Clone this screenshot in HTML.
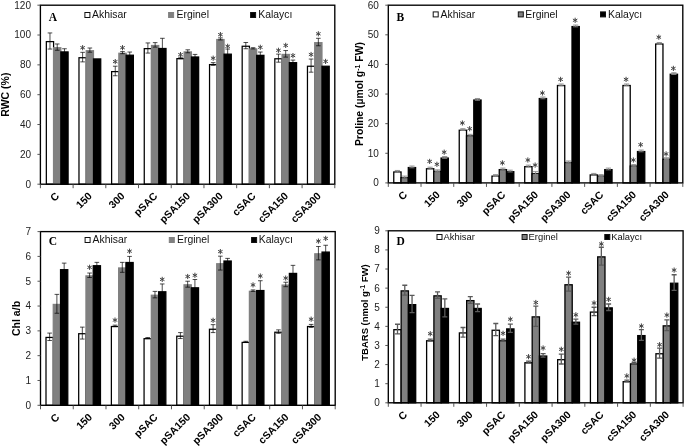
<!DOCTYPE html>
<html><head><meta charset="utf-8"><style>
html,body{margin:0;padding:0;background:#fff;}
body{width:685px;height:447px;overflow:hidden;}
svg{display:block;will-change:transform;filter:blur(0.4px);}
text{font-family:"Liberation Sans",sans-serif;}
.tl{font-size:10px;fill:#222;}
.xl{font-size:10.45px;font-weight:bold;fill:#000;}
.yl{font-weight:bold;fill:#000;}
.pl{font-family:"Liberation Serif",serif;font-weight:bold;font-size:11.5px;fill:#000;}
.lg{fill:#111;}
</style></head><body>
<svg width="685" height="447" viewBox="0 0 685 447">
<rect width="685" height="447" fill="#fff"/>
<rect x="46.34" y="41.62" width="7.25" height="142.57" fill="#ffffff" stroke="#000" stroke-width="1.25"/>
<rect x="53.59" y="47.74" width="7.25" height="136.46" fill="#808080" stroke="#808080" stroke-width="1.25"/>
<rect x="60.85" y="51.92" width="7.25" height="132.28" fill="#000000" stroke="#000" stroke-width="1.25"/>
<rect x="78.98" y="57.73" width="7.25" height="126.47" fill="#ffffff" stroke="#000" stroke-width="1.25"/>
<rect x="86.23" y="50.72" width="7.25" height="133.48" fill="#808080" stroke="#808080" stroke-width="1.25"/>
<rect x="93.49" y="58.93" width="7.25" height="125.27" fill="#000000" stroke="#000" stroke-width="1.25"/>
<rect x="111.62" y="71.61" width="7.25" height="112.59" fill="#ffffff" stroke="#000" stroke-width="1.25"/>
<rect x="118.87" y="53.26" width="7.25" height="130.94" fill="#808080" stroke="#808080" stroke-width="1.25"/>
<rect x="126.13" y="55.2" width="7.25" height="129" fill="#000000" stroke="#000" stroke-width="1.25"/>
<rect x="144.26" y="48.64" width="7.25" height="135.56" fill="#ffffff" stroke="#000" stroke-width="1.25"/>
<rect x="151.51" y="45.5" width="7.25" height="138.7" fill="#808080" stroke="#808080" stroke-width="1.25"/>
<rect x="158.77" y="48.49" width="7.25" height="135.71" fill="#000000" stroke="#000" stroke-width="1.25"/>
<rect x="176.9" y="58.63" width="7.25" height="125.57" fill="#ffffff" stroke="#000" stroke-width="1.25"/>
<rect x="184.15" y="51.92" width="7.25" height="132.28" fill="#808080" stroke="#808080" stroke-width="1.25"/>
<rect x="191.41" y="56.99" width="7.25" height="127.21" fill="#000000" stroke="#000" stroke-width="1.25"/>
<rect x="209.54" y="64.6" width="7.25" height="119.6" fill="#ffffff" stroke="#000" stroke-width="1.25"/>
<rect x="216.79" y="39.54" width="7.25" height="144.66" fill="#808080" stroke="#808080" stroke-width="1.25"/>
<rect x="224.05" y="54.16" width="7.25" height="130.04" fill="#000000" stroke="#000" stroke-width="1.25"/>
<rect x="242.18" y="46.25" width="7.25" height="137.95" fill="#ffffff" stroke="#000" stroke-width="1.25"/>
<rect x="249.43" y="48.93" width="7.25" height="135.27" fill="#808080" stroke="#808080" stroke-width="1.25"/>
<rect x="256.69" y="55.35" width="7.25" height="128.85" fill="#000000" stroke="#000" stroke-width="1.25"/>
<rect x="274.82" y="58.78" width="7.25" height="125.42" fill="#ffffff" stroke="#000" stroke-width="1.25"/>
<rect x="282.07" y="54.45" width="7.25" height="129.75" fill="#808080" stroke="#808080" stroke-width="1.25"/>
<rect x="289.33" y="62.66" width="7.25" height="121.54" fill="#000000" stroke="#000" stroke-width="1.25"/>
<rect x="307.46" y="66.24" width="7.25" height="117.96" fill="#ffffff" stroke="#000" stroke-width="1.25"/>
<rect x="314.71" y="42.67" width="7.25" height="141.53" fill="#808080" stroke="#808080" stroke-width="1.25"/>
<rect x="321.97" y="66.24" width="7.25" height="117.96" fill="#000000" stroke="#000" stroke-width="1.25"/>
<path d="M49.97 32.94V49.06M47.67 32.94H52.27M47.67 49.06H52.27" stroke="#000" stroke-width="0.7" fill="none"/>
<path d="M57.22 43.98V50.25M54.92 43.98H59.52M54.92 50.25H59.52" stroke="#000" stroke-width="0.7" fill="none"/>
<path d="M64.47 48.76V53.83M62.17 48.76H66.77M62.17 53.83H66.77" stroke="#000" stroke-width="0.7" fill="none"/>
<path d="M82.61 52.34V61.88M80.31 52.34H84.91M80.31 61.88H84.91" stroke="#000" stroke-width="0.7" fill="none"/>
<path d="M89.86 48.01V52.19M87.56 48.01H92.16M87.56 52.19H92.16" stroke="#000" stroke-width="0.7" fill="none"/>
<path d="M115.25 66.21V75.76M112.95 66.21H117.55M112.95 75.76H117.55" stroke="#000" stroke-width="0.7" fill="none"/>
<path d="M122.5 51.59V53.68M120.2 51.59H124.8M120.2 53.68H124.8" stroke="#000" stroke-width="0.7" fill="none"/>
<path d="M129.75 52.04V57.11M127.45 52.04H132.05M127.45 57.11H132.05" stroke="#000" stroke-width="0.7" fill="none"/>
<path d="M147.89 42.94V53.08M145.59 42.94H150.19M145.59 53.08H150.19" stroke="#000" stroke-width="0.7" fill="none"/>
<path d="M155.14 42.64V47.12M152.84 42.64H157.44M152.84 47.12H157.44" stroke="#000" stroke-width="0.7" fill="none"/>
<path d="M162.39 38.31V57.41M160.09 38.31H164.69M160.09 57.41H164.69" stroke="#000" stroke-width="0.7" fill="none"/>
<path d="M180.53 57.26V58.75M178.23 57.26H182.83M178.23 58.75H182.83" stroke="#000" stroke-width="0.7" fill="none"/>
<path d="M187.78 49.8V52.78M185.48 49.8H190.08M185.48 52.78H190.08" stroke="#000" stroke-width="0.7" fill="none"/>
<path d="M195.03 54.42V58.3M192.73 54.42H197.33M192.73 58.3H197.33" stroke="#000" stroke-width="0.7" fill="none"/>
<path d="M213.17 62.63V65.31M210.87 62.63H215.47M210.87 65.31H215.47" stroke="#000" stroke-width="0.7" fill="none"/>
<path d="M220.42 37.87V39.96M218.12 37.87H222.72M218.12 39.96H222.72" stroke="#000" stroke-width="0.7" fill="none"/>
<path d="M227.67 49.06V58M225.37 49.06H229.97M225.37 58H229.97" stroke="#000" stroke-width="0.7" fill="none"/>
<path d="M245.81 42.49V48.76M243.51 42.49H248.11M243.51 48.76H248.11" stroke="#000" stroke-width="0.7" fill="none"/>
<path d="M253.06 47.71V48.91M250.76 47.71H255.36M250.76 48.91H255.36" stroke="#000" stroke-width="0.7" fill="none"/>
<path d="M260.31 52.04V57.41M258.01 52.04H262.61M258.01 57.41H262.61" stroke="#000" stroke-width="0.7" fill="none"/>
<path d="M278.45 54.13V62.18M276.15 54.13H280.75M276.15 62.18H280.75" stroke="#000" stroke-width="0.7" fill="none"/>
<path d="M285.7 50.55V57.11M283.4 50.55H288M283.4 57.11H288" stroke="#000" stroke-width="0.7" fill="none"/>
<path d="M292.95 60.09V63.97M290.65 60.09H295.25M290.65 63.97H295.25" stroke="#000" stroke-width="0.7" fill="none"/>
<path d="M311.09 59.05V72.18M308.79 59.05H313.39M308.79 72.18H313.39" stroke="#000" stroke-width="0.7" fill="none"/>
<path d="M318.34 38.31V45.77M316.04 38.31H320.64M316.04 45.77H320.64" stroke="#000" stroke-width="0.7" fill="none"/>
<path d="M82.61 45.5L82.61 49.9M80.7 46.6L84.51 48.8M80.7 48.8L84.51 46.6" stroke="#444" stroke-width="1.0" stroke-linecap="round" fill="none"/>
<path d="M115.25 59.4L115.25 63.8M113.34 60.5L117.15 62.7M113.34 62.7L117.15 60.5" stroke="#444" stroke-width="1.0" stroke-linecap="round" fill="none"/>
<path d="M122.5 45.5L122.5 49.9M120.59 46.6L124.41 48.8M120.59 48.8L124.41 46.6" stroke="#444" stroke-width="1.0" stroke-linecap="round" fill="none"/>
<path d="M180.53 52.4L180.53 56.8M178.62 53.5L182.43 55.7M178.62 55.7L182.43 53.5" stroke="#444" stroke-width="1.0" stroke-linecap="round" fill="none"/>
<path d="M213.17 56L213.17 60.4M211.26 57.1L215.07 59.3M211.26 59.3L215.07 57.1" stroke="#444" stroke-width="1.0" stroke-linecap="round" fill="none"/>
<path d="M220.42 32.4L220.42 36.8M218.51 33.5L222.33 35.7M218.51 35.7L222.33 33.5" stroke="#444" stroke-width="1.0" stroke-linecap="round" fill="none"/>
<path d="M227.67 44.1L227.67 48.5M225.77 45.2L229.58 47.4M225.77 47.4L229.58 45.2" stroke="#444" stroke-width="1.0" stroke-linecap="round" fill="none"/>
<path d="M260.31 45.1L260.31 49.5M258.41 46.2L262.22 48.4M258.41 48.4L262.22 46.2" stroke="#444" stroke-width="1.0" stroke-linecap="round" fill="none"/>
<path d="M278.45 48.1L278.45 52.5M276.54 49.2L280.35 51.4M276.54 51.4L280.35 49.2" stroke="#444" stroke-width="1.0" stroke-linecap="round" fill="none"/>
<path d="M285.7 43.2L285.7 47.6M283.79 44.3L287.61 46.5M283.79 46.5L287.61 44.3" stroke="#444" stroke-width="1.0" stroke-linecap="round" fill="none"/>
<path d="M292.95 53.4L292.95 57.8M291.05 54.5L294.86 56.7M291.05 56.7L294.86 54.5" stroke="#444" stroke-width="1.0" stroke-linecap="round" fill="none"/>
<path d="M311.09 52.3L311.09 56.7M309.18 53.4L312.99 55.6M309.18 55.6L312.99 53.4" stroke="#444" stroke-width="1.0" stroke-linecap="round" fill="none"/>
<path d="M318.34 31.6L318.34 36M316.43 32.7L320.25 34.9M316.43 34.9L320.25 32.7" stroke="#444" stroke-width="1.0" stroke-linecap="round" fill="none"/>
<path d="M325.59 59.2L325.59 63.6M323.69 60.3L327.5 62.5M323.69 62.5L327.5 60.3" stroke="#444" stroke-width="1.0" stroke-linecap="round" fill="none"/>
<rect x="40.4" y="5.2" width="294.4" height="179" fill="none" stroke="#000" stroke-width="1.35"/>
<text x="31" y="187.6" text-anchor="end" class="tl">0</text>
<text x="31" y="157.77" text-anchor="end" class="tl">20</text>
<text x="31" y="127.93" text-anchor="end" class="tl">40</text>
<text x="31" y="98.1" text-anchor="end" class="tl">60</text>
<text x="31" y="68.27" text-anchor="end" class="tl">80</text>
<text x="31" y="38.43" text-anchor="end" class="tl">100</text>
<text x="31" y="8.6" text-anchor="end" class="tl">120</text>
<path d="M37.4 184.2H40.4M37.4 154.37H40.4M37.4 124.53H40.4M37.4 94.7H40.4M37.4 64.87H40.4M37.4 35.03H40.4M37.4 5.2H40.4M40.4 184.2V188.2M73.11 184.2V188.2M105.82 184.2V188.2M138.53 184.2V188.2M171.24 184.2V188.2M203.96 184.2V188.2M236.67 184.2V188.2M269.38 184.2V188.2M302.09 184.2V188.2M334.8 184.2V188.2" stroke="#444" stroke-width="0.9" fill="none"/>
<text x="59.96" y="196.7" text-anchor="end" class="xl" transform="rotate(-45 59.96 196.7)">C</text>
<text x="92.67" y="196.7" text-anchor="end" class="xl" transform="rotate(-45 92.67 196.7)">150</text>
<text x="125.38" y="196.7" text-anchor="end" class="xl" transform="rotate(-45 125.38 196.7)">300</text>
<text x="158.09" y="196.7" text-anchor="end" class="xl" transform="rotate(-45 158.09 196.7)">pSAC</text>
<text x="190.8" y="196.7" text-anchor="end" class="xl" transform="rotate(-45 190.8 196.7)">pSA150</text>
<text x="223.51" y="196.7" text-anchor="end" class="xl" transform="rotate(-45 223.51 196.7)">pSA300</text>
<text x="256.22" y="196.7" text-anchor="end" class="xl" transform="rotate(-45 256.22 196.7)">cSAC</text>
<text x="288.93" y="196.7" text-anchor="end" class="xl" transform="rotate(-45 288.93 196.7)">cSA150</text>
<text x="321.64" y="196.7" text-anchor="end" class="xl" transform="rotate(-45 321.64 196.7)">cSA300</text>
<text x="9.4" y="94.7" text-anchor="middle" class="yl" style="font-size:10.5px" transform="rotate(-90 9.4 94.7)">RWC (%)</text>
<text x="48.8" y="21.2" class="pl">A</text>
<rect x="84.9" y="12.5" width="5" height="5" fill="#ffffff" stroke="#111" stroke-width="1"/>
<text x="92.1" y="18.2" class="lg" style="font-size:10.4px">Akhisar</text>
<rect x="168.6" y="12.5" width="5" height="5" fill="#808080" stroke="#808080" stroke-width="1"/>
<text x="176.6" y="18.2" class="lg" style="font-size:10.4px">Erginel</text>
<rect x="250.6" y="12.5" width="5" height="5" fill="#000000" stroke="#111" stroke-width="1"/>
<text x="258.3" y="18.2" class="lg" style="font-size:10.4px">Kalaycı</text>
<rect x="393.76" y="172" width="7.28" height="10.9" fill="#ffffff" stroke="#000" stroke-width="1.3"/>
<rect x="401.03" y="177.63" width="7.28" height="5.27" fill="#808080" stroke="#000" stroke-width="1.3"/>
<rect x="408.31" y="167.56" width="7.28" height="15.34" fill="#000000" stroke="#000" stroke-width="1.3"/>
<rect x="426.5" y="168.74" width="7.28" height="14.16" fill="#ffffff" stroke="#000" stroke-width="1.3"/>
<rect x="433.77" y="171.41" width="7.28" height="11.49" fill="#808080" stroke="#000" stroke-width="1.3"/>
<rect x="441.05" y="158.08" width="7.28" height="24.82" fill="#000000" stroke="#000" stroke-width="1.3"/>
<rect x="459.24" y="130.24" width="7.28" height="52.66" fill="#ffffff" stroke="#000" stroke-width="1.3"/>
<rect x="466.51" y="135.87" width="7.28" height="47.03" fill="#808080" stroke="#000" stroke-width="1.3"/>
<rect x="473.79" y="100.03" width="7.28" height="82.87" fill="#000000" stroke="#000" stroke-width="1.3"/>
<rect x="491.98" y="176.15" width="7.28" height="6.75" fill="#ffffff" stroke="#000" stroke-width="1.3"/>
<rect x="499.25" y="169.63" width="7.28" height="13.27" fill="#808080" stroke="#000" stroke-width="1.3"/>
<rect x="506.53" y="171.7" width="7.28" height="11.2" fill="#000000" stroke="#000" stroke-width="1.3"/>
<rect x="524.72" y="166.67" width="7.28" height="16.23" fill="#ffffff" stroke="#000" stroke-width="1.3"/>
<rect x="531.99" y="173.78" width="7.28" height="9.12" fill="#808080" stroke="#000" stroke-width="1.3"/>
<rect x="539.27" y="98.55" width="7.28" height="84.35" fill="#000000" stroke="#000" stroke-width="1.3"/>
<rect x="557.46" y="85.52" width="7.28" height="97.38" fill="#ffffff" stroke="#000" stroke-width="1.3"/>
<rect x="564.73" y="162.52" width="7.28" height="20.38" fill="#808080" stroke="#000" stroke-width="1.3"/>
<rect x="572.01" y="26.58" width="7.28" height="156.32" fill="#000000" stroke="#000" stroke-width="1.3"/>
<rect x="590.2" y="174.96" width="7.28" height="7.94" fill="#ffffff" stroke="#000" stroke-width="1.3"/>
<rect x="597.47" y="176.15" width="7.28" height="6.75" fill="#808080" stroke="#000" stroke-width="1.3"/>
<rect x="604.75" y="169.63" width="7.28" height="13.27" fill="#000000" stroke="#000" stroke-width="1.3"/>
<rect x="622.94" y="85.52" width="7.28" height="97.38" fill="#ffffff" stroke="#000" stroke-width="1.3"/>
<rect x="630.21" y="166.08" width="7.28" height="16.82" fill="#808080" stroke="#000" stroke-width="1.3"/>
<rect x="637.49" y="151.56" width="7.28" height="31.34" fill="#000000" stroke="#000" stroke-width="1.3"/>
<rect x="655.68" y="44.06" width="7.28" height="138.84" fill="#ffffff" stroke="#000" stroke-width="1.3"/>
<rect x="662.95" y="159.26" width="7.28" height="23.64" fill="#808080" stroke="#000" stroke-width="1.3"/>
<rect x="670.23" y="74.26" width="7.28" height="108.64" fill="#000000" stroke="#000" stroke-width="1.3"/>
<path d="M397.39 170.46V172.24M394.79 170.46H399.99M394.79 172.24H399.99" stroke="#8a8a8a" stroke-width="0.9" fill="none"/>
<path d="M404.67 176.09V177.87M402.07 176.09H407.27M402.07 177.87H407.27" stroke="#8a8a8a" stroke-width="0.9" fill="none"/>
<path d="M411.95 166.02V167.8M409.35 166.02H414.55M409.35 167.8H414.55" stroke="#8a8a8a" stroke-width="0.9" fill="none"/>
<path d="M430.13 167.2V168.98M427.53 167.2H432.73M427.53 168.98H432.73" stroke="#8a8a8a" stroke-width="0.9" fill="none"/>
<path d="M437.41 169.87V171.65M434.81 169.87H440.01M434.81 171.65H440.01" stroke="#8a8a8a" stroke-width="0.9" fill="none"/>
<path d="M444.69 156.54V158.32M442.09 156.54H447.29M442.09 158.32H447.29" stroke="#8a8a8a" stroke-width="0.9" fill="none"/>
<path d="M462.87 128.7V130.48M460.27 128.7H465.47M460.27 130.48H465.47" stroke="#8a8a8a" stroke-width="0.9" fill="none"/>
<path d="M470.15 134.33V136.11M467.55 134.33H472.75M467.55 136.11H472.75" stroke="#8a8a8a" stroke-width="0.9" fill="none"/>
<path d="M477.43 98.49V100.27M474.83 98.49H480.03M474.83 100.27H480.03" stroke="#8a8a8a" stroke-width="0.9" fill="none"/>
<path d="M495.61 174.61V176.38M493.01 174.61H498.21M493.01 176.38H498.21" stroke="#8a8a8a" stroke-width="0.9" fill="none"/>
<path d="M502.89 168.09V169.87M500.29 168.09H505.49M500.29 169.87H505.49" stroke="#8a8a8a" stroke-width="0.9" fill="none"/>
<path d="M510.17 170.16V171.94M507.57 170.16H512.77M507.57 171.94H512.77" stroke="#8a8a8a" stroke-width="0.9" fill="none"/>
<path d="M528.35 165.13V166.91M525.75 165.13H530.95M525.75 166.91H530.95" stroke="#8a8a8a" stroke-width="0.9" fill="none"/>
<path d="M535.63 171.65V174.61M533.03 171.65H538.23M533.03 174.61H538.23" stroke="#8a8a8a" stroke-width="0.9" fill="none"/>
<path d="M542.91 97.01V98.79M540.31 97.01H545.51M540.31 98.79H545.51" stroke="#8a8a8a" stroke-width="0.9" fill="none"/>
<path d="M561.09 83.98V85.76M558.49 83.98H563.69M558.49 85.76H563.69" stroke="#8a8a8a" stroke-width="0.9" fill="none"/>
<path d="M568.37 160.98V162.76M565.77 160.98H570.97M565.77 162.76H570.97" stroke="#8a8a8a" stroke-width="0.9" fill="none"/>
<path d="M575.65 25.04V26.82M573.05 25.04H578.25M573.05 26.82H578.25" stroke="#8a8a8a" stroke-width="0.9" fill="none"/>
<path d="M593.83 173.42V175.2M591.23 173.42H596.43M591.23 175.2H596.43" stroke="#8a8a8a" stroke-width="0.9" fill="none"/>
<path d="M601.11 174.61V176.38M598.51 174.61H603.71M598.51 176.38H603.71" stroke="#8a8a8a" stroke-width="0.9" fill="none"/>
<path d="M608.39 168.09V169.87M605.79 168.09H610.99M605.79 169.87H610.99" stroke="#8a8a8a" stroke-width="0.9" fill="none"/>
<path d="M626.57 83.98V85.76M623.97 83.98H629.17M623.97 85.76H629.17" stroke="#8a8a8a" stroke-width="0.9" fill="none"/>
<path d="M633.85 164.54V166.31M631.25 164.54H636.45M631.25 166.31H636.45" stroke="#8a8a8a" stroke-width="0.9" fill="none"/>
<path d="M641.13 150.03V151.8M638.53 150.03H643.73M638.53 151.8H643.73" stroke="#8a8a8a" stroke-width="0.9" fill="none"/>
<path d="M659.31 42.52V44.29M656.71 42.52H661.91M656.71 44.29H661.91" stroke="#8a8a8a" stroke-width="0.9" fill="none"/>
<path d="M666.59 157.73V159.5M663.99 157.73H669.19M663.99 159.5H669.19" stroke="#8a8a8a" stroke-width="0.9" fill="none"/>
<path d="M673.87 72.73V74.5M671.27 72.73H676.47M671.27 74.5H676.47" stroke="#8a8a8a" stroke-width="0.9" fill="none"/>
<path d="M429.63 159.2L429.63 163.6M427.73 160.3L431.54 162.5M427.73 162.5L431.54 160.3" stroke="#444" stroke-width="1.0" stroke-linecap="round" fill="none"/>
<path d="M436.91 162.1L436.91 166.5M435 163.2L438.82 165.4M435 165.4L438.82 163.2" stroke="#444" stroke-width="1.0" stroke-linecap="round" fill="none"/>
<path d="M444.19 150L444.19 154.4M442.28 151.1L446.09 153.3M442.28 153.3L446.09 151.1" stroke="#444" stroke-width="1.0" stroke-linecap="round" fill="none"/>
<path d="M462.37 120.8L462.37 125.2M460.47 121.9L464.28 124.1M460.47 124.1L464.28 121.9" stroke="#444" stroke-width="1.0" stroke-linecap="round" fill="none"/>
<path d="M469.65 126.5L469.65 130.9M467.74 127.6L471.56 129.8M467.74 129.8L471.56 127.6" stroke="#444" stroke-width="1.0" stroke-linecap="round" fill="none"/>
<path d="M502.39 160.7L502.39 165.1M500.48 161.8L504.3 164M500.48 164L504.3 161.8" stroke="#444" stroke-width="1.0" stroke-linecap="round" fill="none"/>
<path d="M527.85 157.8L527.85 162.2M525.95 158.9L529.76 161.1M525.95 161.1L529.76 158.9" stroke="#444" stroke-width="1.0" stroke-linecap="round" fill="none"/>
<path d="M535.13 162.9L535.13 167.3M533.22 164L537.04 166.2M533.22 166.2L537.04 164" stroke="#444" stroke-width="1.0" stroke-linecap="round" fill="none"/>
<path d="M542.41 90.8L542.41 95.2M540.5 91.9L544.31 94.1M540.5 94.1L544.31 91.9" stroke="#444" stroke-width="1.0" stroke-linecap="round" fill="none"/>
<path d="M560.59 77.2L560.59 81.6M558.69 78.3L562.5 80.5M558.69 80.5L562.5 78.3" stroke="#444" stroke-width="1.0" stroke-linecap="round" fill="none"/>
<path d="M575.15 18.1L575.15 22.5M573.24 19.2L577.05 21.4M573.24 21.4L577.05 19.2" stroke="#444" stroke-width="1.0" stroke-linecap="round" fill="none"/>
<path d="M626.07 77.2L626.07 81.6M624.17 78.3L627.98 80.5M624.17 80.5L627.98 78.3" stroke="#444" stroke-width="1.0" stroke-linecap="round" fill="none"/>
<path d="M633.35 157.8L633.35 162.2M631.44 158.9L635.26 161.1M631.44 161.1L635.26 158.9" stroke="#444" stroke-width="1.0" stroke-linecap="round" fill="none"/>
<path d="M640.63 142.5L640.63 146.9M638.72 143.6L642.53 145.8M638.72 145.8L642.53 143.6" stroke="#444" stroke-width="1.0" stroke-linecap="round" fill="none"/>
<path d="M658.81 35L658.81 39.4M656.91 36.1L660.72 38.3M656.91 38.3L660.72 36.1" stroke="#444" stroke-width="1.0" stroke-linecap="round" fill="none"/>
<path d="M666.09 151.7L666.09 156.1M664.18 152.8L668 155M664.18 155L668 152.8" stroke="#444" stroke-width="1.0" stroke-linecap="round" fill="none"/>
<path d="M673.37 66.2L673.37 70.6M671.46 67.3L675.27 69.5M671.46 69.5L675.27 67.3" stroke="#444" stroke-width="1.0" stroke-linecap="round" fill="none"/>
<rect x="388.3" y="5.2" width="294.5" height="177.7" fill="none" stroke="#000" stroke-width="1.35"/>
<text x="378.9" y="186.3" text-anchor="end" class="tl">0</text>
<text x="378.9" y="156.68" text-anchor="end" class="tl">10</text>
<text x="378.9" y="127.07" text-anchor="end" class="tl">20</text>
<text x="378.9" y="97.45" text-anchor="end" class="tl">30</text>
<text x="378.9" y="67.83" text-anchor="end" class="tl">40</text>
<text x="378.9" y="38.22" text-anchor="end" class="tl">50</text>
<text x="378.9" y="8.6" text-anchor="end" class="tl">60</text>
<path d="M385.3 182.9H388.3M385.3 153.28H388.3M385.3 123.67H388.3M385.3 94.05H388.3M385.3 64.43H388.3M385.3 34.82H388.3M385.3 5.2H388.3M388.3 182.9V186.9M421.02 182.9V186.9M453.74 182.9V186.9M486.47 182.9V186.9M519.19 182.9V186.9M551.91 182.9V186.9M584.63 182.9V186.9M617.36 182.9V186.9M650.08 182.9V186.9M682.8 182.9V186.9" stroke="#444" stroke-width="0.9" fill="none"/>
<text x="407.86" y="195.4" text-anchor="end" class="xl" transform="rotate(-45 407.86 195.4)">C</text>
<text x="440.58" y="195.4" text-anchor="end" class="xl" transform="rotate(-45 440.58 195.4)">150</text>
<text x="473.31" y="195.4" text-anchor="end" class="xl" transform="rotate(-45 473.31 195.4)">300</text>
<text x="506.03" y="195.4" text-anchor="end" class="xl" transform="rotate(-45 506.03 195.4)">pSAC</text>
<text x="538.75" y="195.4" text-anchor="end" class="xl" transform="rotate(-45 538.75 195.4)">pSA150</text>
<text x="571.47" y="195.4" text-anchor="end" class="xl" transform="rotate(-45 571.47 195.4)">pSA300</text>
<text x="604.19" y="195.4" text-anchor="end" class="xl" transform="rotate(-45 604.19 195.4)">cSAC</text>
<text x="636.92" y="195.4" text-anchor="end" class="xl" transform="rotate(-45 636.92 195.4)">cSA150</text>
<text x="669.64" y="195.4" text-anchor="end" class="xl" transform="rotate(-45 669.64 195.4)">cSA300</text>
<text x="362.6" y="94.05" text-anchor="middle" class="yl" style="font-size:10.4px" transform="rotate(-90 362.6 94.05)">Proline (µmol g<tspan baseline-shift="super" font-size="7">-1</tspan> FW)</text>
<text x="396.6" y="21.2" class="pl">B</text>
<rect x="433.2" y="11.9" width="5" height="5" fill="#ffffff" stroke="#111" stroke-width="1"/>
<text x="440.6" y="17.5" class="lg" style="font-size:10.4px">Akhisar</text>
<rect x="518.3" y="11.9" width="5" height="5" fill="#808080" stroke="#111" stroke-width="1"/>
<text x="525.3" y="17.5" class="lg" style="font-size:10.4px">Erginel</text>
<rect x="600.5" y="11.9" width="5" height="5" fill="#000000" stroke="#111" stroke-width="1"/>
<text x="608.1" y="17.5" class="lg" style="font-size:10.4px">Kalaycı</text>
<rect x="46" y="337.44" width="7.26" height="67.86" fill="#ffffff" stroke="#000" stroke-width="1.25"/>
<rect x="53.26" y="304.43" width="7.26" height="100.87" fill="#808080" stroke="#808080" stroke-width="1.25"/>
<rect x="60.53" y="269.69" width="7.26" height="135.61" fill="#000000" stroke="#000" stroke-width="1.25"/>
<rect x="78.69" y="333.72" width="7.26" height="71.58" fill="#ffffff" stroke="#000" stroke-width="1.25"/>
<rect x="85.95" y="275.9" width="7.26" height="129.4" fill="#808080" stroke="#808080" stroke-width="1.25"/>
<rect x="93.22" y="265.72" width="7.26" height="139.58" fill="#000000" stroke="#000" stroke-width="1.25"/>
<rect x="111.38" y="326.52" width="7.26" height="78.78" fill="#ffffff" stroke="#000" stroke-width="1.25"/>
<rect x="118.64" y="267.96" width="7.26" height="137.34" fill="#808080" stroke="#808080" stroke-width="1.25"/>
<rect x="125.91" y="262.5" width="7.26" height="142.8" fill="#000000" stroke="#000" stroke-width="1.25"/>
<rect x="144.07" y="338.68" width="7.26" height="66.62" fill="#ffffff" stroke="#000" stroke-width="1.25"/>
<rect x="151.33" y="295.25" width="7.26" height="110.05" fill="#808080" stroke="#808080" stroke-width="1.25"/>
<rect x="158.6" y="291.78" width="7.26" height="113.52" fill="#000000" stroke="#000" stroke-width="1.25"/>
<rect x="176.76" y="336.2" width="7.26" height="69.1" fill="#ffffff" stroke="#000" stroke-width="1.25"/>
<rect x="184.02" y="284.83" width="7.26" height="120.47" fill="#808080" stroke="#808080" stroke-width="1.25"/>
<rect x="191.29" y="287.81" width="7.26" height="117.49" fill="#000000" stroke="#000" stroke-width="1.25"/>
<rect x="209.45" y="329.25" width="7.26" height="76.05" fill="#ffffff" stroke="#000" stroke-width="1.25"/>
<rect x="216.71" y="263.74" width="7.26" height="141.56" fill="#808080" stroke="#808080" stroke-width="1.25"/>
<rect x="223.98" y="261.01" width="7.26" height="144.29" fill="#000000" stroke="#000" stroke-width="1.25"/>
<rect x="242.14" y="342.4" width="7.26" height="62.9" fill="#ffffff" stroke="#000" stroke-width="1.25"/>
<rect x="249.4" y="291.28" width="7.26" height="114.02" fill="#808080" stroke="#808080" stroke-width="1.25"/>
<rect x="256.67" y="290.54" width="7.26" height="114.76" fill="#000000" stroke="#000" stroke-width="1.25"/>
<rect x="274.83" y="332.23" width="7.26" height="73.07" fill="#ffffff" stroke="#000" stroke-width="1.25"/>
<rect x="282.09" y="285.08" width="7.26" height="120.22" fill="#808080" stroke="#808080" stroke-width="1.25"/>
<rect x="289.36" y="273.42" width="7.26" height="131.88" fill="#000000" stroke="#000" stroke-width="1.25"/>
<rect x="307.52" y="326.52" width="7.26" height="78.78" fill="#ffffff" stroke="#000" stroke-width="1.25"/>
<rect x="314.78" y="253.81" width="7.26" height="151.49" fill="#808080" stroke="#808080" stroke-width="1.25"/>
<rect x="322.05" y="252.08" width="7.26" height="153.22" fill="#000000" stroke="#000" stroke-width="1.25"/>
<path d="M49.63 333.09V340.53M47.33 333.09H51.93M47.33 340.53H51.93" stroke="#000" stroke-width="0.7" fill="none"/>
<path d="M56.89 294.38V313.24M54.59 294.38H59.19M54.59 313.24H59.19" stroke="#000" stroke-width="0.7" fill="none"/>
<path d="M64.16 263.11V275.02M61.86 263.11H66.46M61.86 275.02H66.46" stroke="#000" stroke-width="0.7" fill="none"/>
<path d="M82.32 327.13V339.05M80.02 327.13H84.62M80.02 339.05H84.62" stroke="#000" stroke-width="0.7" fill="none"/>
<path d="M89.59 273.04V277.51M87.29 273.04H91.89M87.29 277.51H91.89" stroke="#000" stroke-width="0.7" fill="none"/>
<path d="M96.85 262.37V267.83M94.55 262.37H99.15M94.55 267.83H99.15" stroke="#000" stroke-width="0.7" fill="none"/>
<path d="M115.01 325.15V326.64M112.71 325.15H117.31M112.71 326.64H117.31" stroke="#000" stroke-width="0.7" fill="none"/>
<path d="M122.28 262.37V272.3M119.98 262.37H124.58M119.98 272.3H124.58" stroke="#000" stroke-width="0.7" fill="none"/>
<path d="M129.54 256.41V267.33M127.24 256.41H131.84M127.24 267.33H131.84" stroke="#000" stroke-width="0.7" fill="none"/>
<path d="M147.7 337.56V338.55M145.4 337.56H150M145.4 338.55H150" stroke="#000" stroke-width="0.7" fill="none"/>
<path d="M154.97 291.4V297.85M152.66 291.4H157.27M152.66 297.85H157.27" stroke="#000" stroke-width="0.7" fill="none"/>
<path d="M162.23 283.96V298.35M159.93 283.96H164.53M159.93 298.35H164.53" stroke="#000" stroke-width="0.7" fill="none"/>
<path d="M180.39 332.59V338.55M178.09 332.59H182.69M178.09 338.55H182.69" stroke="#000" stroke-width="0.7" fill="none"/>
<path d="M187.66 281.23V287.18M185.35 281.23H189.96M185.35 287.18H189.96" stroke="#000" stroke-width="0.7" fill="none"/>
<path d="M194.92 279.49V294.88M192.62 279.49H197.22M192.62 294.88H197.22" stroke="#000" stroke-width="0.7" fill="none"/>
<path d="M213.08 324.65V332.59M210.78 324.65H215.38M210.78 332.59H215.38" stroke="#000" stroke-width="0.7" fill="none"/>
<path d="M220.34 256.17V270.06M218.04 256.17H222.65M218.04 270.06H222.65" stroke="#000" stroke-width="0.7" fill="none"/>
<path d="M227.61 258.4V262.37M225.31 258.4H229.91M225.31 262.37H229.91" stroke="#000" stroke-width="0.7" fill="none"/>
<path d="M245.77 341.28V342.27M243.47 341.28H248.07M243.47 342.27H248.07" stroke="#000" stroke-width="0.7" fill="none"/>
<path d="M253.03 289.91V291.4M250.73 289.91H255.34M250.73 291.4H255.34" stroke="#000" stroke-width="0.7" fill="none"/>
<path d="M260.3 280.73V299.09M258 280.73H262.6M258 299.09H262.6" stroke="#000" stroke-width="0.7" fill="none"/>
<path d="M278.46 329.86V333.34M276.16 329.86H280.76M276.16 333.34H280.76" stroke="#000" stroke-width="0.7" fill="none"/>
<path d="M285.72 282.22V286.69M283.42 282.22H288.02M283.42 286.69H288.02" stroke="#000" stroke-width="0.7" fill="none"/>
<path d="M292.99 265.35V280.24M290.69 265.35H295.29M290.69 280.24H295.29" stroke="#000" stroke-width="0.7" fill="none"/>
<path d="M311.15 324.41V327.38M308.85 324.41H313.45M308.85 327.38H313.45" stroke="#000" stroke-width="0.7" fill="none"/>
<path d="M318.41 246.49V259.89M316.11 246.49H320.71M316.11 259.89H320.71" stroke="#000" stroke-width="0.7" fill="none"/>
<path d="M325.68 245.25V257.65M323.38 245.25H327.98M323.38 257.65H327.98" stroke="#000" stroke-width="0.7" fill="none"/>
<path d="M89.59 265.1L89.59 269.5M87.68 266.2L91.49 268.4M87.68 268.4L91.49 266.2" stroke="#444" stroke-width="1.0" stroke-linecap="round" fill="none"/>
<path d="M115.01 317.9L115.01 322.3M113.11 319L116.92 321.2M113.11 321.2L116.92 319" stroke="#444" stroke-width="1.0" stroke-linecap="round" fill="none"/>
<path d="M129.54 249L129.54 253.4M127.63 250.1L131.44 252.3M127.63 252.3L131.44 250.1" stroke="#444" stroke-width="1.0" stroke-linecap="round" fill="none"/>
<path d="M162.23 277.2L162.23 281.6M160.32 278.3L164.13 280.5M160.32 280.5L164.13 278.3" stroke="#444" stroke-width="1.0" stroke-linecap="round" fill="none"/>
<path d="M187.66 274.3L187.66 278.7M185.75 275.4L189.56 277.6M185.75 277.6L189.56 275.4" stroke="#444" stroke-width="1.0" stroke-linecap="round" fill="none"/>
<path d="M194.92 273.1L194.92 277.5M193.01 274.2L196.82 276.4M193.01 276.4L196.82 274.2" stroke="#444" stroke-width="1.0" stroke-linecap="round" fill="none"/>
<path d="M213.08 318.1L213.08 322.5M211.18 319.2L214.99 321.4M211.18 321.4L214.99 319.2" stroke="#444" stroke-width="1.0" stroke-linecap="round" fill="none"/>
<path d="M220.34 249.4L220.34 253.8M218.44 250.5L222.25 252.7M218.44 252.7L222.25 250.5" stroke="#444" stroke-width="1.0" stroke-linecap="round" fill="none"/>
<path d="M253.03 282.7L253.03 287.1M251.13 283.8L254.94 286M251.13 286L254.94 283.8" stroke="#444" stroke-width="1.0" stroke-linecap="round" fill="none"/>
<path d="M260.3 273.8L260.3 278.2M258.39 274.9L262.2 277.1M258.39 277.1L262.2 274.9" stroke="#444" stroke-width="1.0" stroke-linecap="round" fill="none"/>
<path d="M285.72 275.9L285.72 280.3M283.82 277L287.63 279.2M283.82 279.2L287.63 277" stroke="#444" stroke-width="1.0" stroke-linecap="round" fill="none"/>
<path d="M311.15 317L311.15 321.4M309.25 318.1L313.06 320.3M309.25 320.3L313.06 318.1" stroke="#444" stroke-width="1.0" stroke-linecap="round" fill="none"/>
<path d="M318.41 238.9L318.41 243.3M316.51 240L320.32 242.2M316.51 242.2L320.32 240" stroke="#444" stroke-width="1.0" stroke-linecap="round" fill="none"/>
<path d="M325.68 236.2L325.68 240.6M323.77 237.3L327.58 239.5M323.77 239.5L327.58 237.3" stroke="#444" stroke-width="1.0" stroke-linecap="round" fill="none"/>
<rect x="40.5" y="231.6" width="294.7" height="173.7" fill="none" stroke="#000" stroke-width="1.35"/>
<text x="31.1" y="408.7" text-anchor="end" class="tl">0</text>
<text x="31.1" y="383.89" text-anchor="end" class="tl">1</text>
<text x="31.1" y="359.07" text-anchor="end" class="tl">2</text>
<text x="31.1" y="334.26" text-anchor="end" class="tl">3</text>
<text x="31.1" y="309.44" text-anchor="end" class="tl">4</text>
<text x="31.1" y="284.63" text-anchor="end" class="tl">5</text>
<text x="31.1" y="259.81" text-anchor="end" class="tl">6</text>
<text x="31.1" y="235" text-anchor="end" class="tl">7</text>
<path d="M37.5 405.3H40.5M37.5 380.49H40.5M37.5 355.67H40.5M37.5 330.86H40.5M37.5 306.04H40.5M37.5 281.23H40.5M37.5 256.41H40.5M37.5 231.6H40.5M40.5 405.3V409.3M73.24 405.3V409.3M105.99 405.3V409.3M138.73 405.3V409.3M171.48 405.3V409.3M204.22 405.3V409.3M236.97 405.3V409.3M269.71 405.3V409.3M302.46 405.3V409.3M335.2 405.3V409.3" stroke="#444" stroke-width="0.9" fill="none"/>
<text x="60.07" y="417.8" text-anchor="end" class="xl" transform="rotate(-45 60.07 417.8)">C</text>
<text x="92.82" y="417.8" text-anchor="end" class="xl" transform="rotate(-45 92.82 417.8)">150</text>
<text x="125.56" y="417.8" text-anchor="end" class="xl" transform="rotate(-45 125.56 417.8)">300</text>
<text x="158.31" y="417.8" text-anchor="end" class="xl" transform="rotate(-45 158.31 417.8)">pSAC</text>
<text x="191.05" y="417.8" text-anchor="end" class="xl" transform="rotate(-45 191.05 417.8)">pSA150</text>
<text x="223.79" y="417.8" text-anchor="end" class="xl" transform="rotate(-45 223.79 417.8)">pSA300</text>
<text x="256.54" y="417.8" text-anchor="end" class="xl" transform="rotate(-45 256.54 417.8)">cSAC</text>
<text x="289.28" y="417.8" text-anchor="end" class="xl" transform="rotate(-45 289.28 417.8)">cSA150</text>
<text x="322.03" y="417.8" text-anchor="end" class="xl" transform="rotate(-45 322.03 417.8)">cSA300</text>
<text x="20.4" y="318.45" text-anchor="middle" class="yl" style="font-size:10.5px" transform="rotate(-90 20.4 318.45)">Chl a/b</text>
<text x="48.8" y="245.4" class="pl">C</text>
<rect x="85.1" y="237.5" width="5" height="5" fill="#ffffff" stroke="#111" stroke-width="1"/>
<text x="92.6" y="243.3" class="lg" style="font-size:10.4px">Akhisar</text>
<rect x="169.3" y="237.5" width="5" height="5" fill="#808080" stroke="#808080" stroke-width="1"/>
<text x="177" y="243.3" class="lg" style="font-size:10.4px">Erginel</text>
<rect x="251.6" y="237.5" width="5" height="5" fill="#000000" stroke="#111" stroke-width="1"/>
<text x="258.8" y="243.3" class="lg" style="font-size:10.4px">Kalaycı</text>
<rect x="393.86" y="329.68" width="7.28" height="73.12" fill="#ffffff" stroke="#000" stroke-width="1.3"/>
<rect x="401.14" y="290.89" width="7.28" height="111.91" fill="#808080" stroke="#000" stroke-width="1.3"/>
<rect x="408.42" y="304.65" width="7.28" height="98.15" fill="#000000" stroke="#000" stroke-width="1.3"/>
<rect x="426.62" y="340.77" width="7.28" height="62.03" fill="#ffffff" stroke="#000" stroke-width="1.3"/>
<rect x="433.9" y="295.85" width="7.28" height="106.95" fill="#808080" stroke="#000" stroke-width="1.3"/>
<rect x="441.18" y="308.47" width="7.28" height="94.33" fill="#000000" stroke="#000" stroke-width="1.3"/>
<rect x="459.38" y="332.93" width="7.28" height="69.87" fill="#ffffff" stroke="#000" stroke-width="1.3"/>
<rect x="466.66" y="300.63" width="7.28" height="102.17" fill="#808080" stroke="#000" stroke-width="1.3"/>
<rect x="473.94" y="308.47" width="7.28" height="94.33" fill="#000000" stroke="#000" stroke-width="1.3"/>
<rect x="492.14" y="330.25" width="7.28" height="72.55" fill="#ffffff" stroke="#000" stroke-width="1.3"/>
<rect x="499.42" y="340.77" width="7.28" height="62.03" fill="#808080" stroke="#000" stroke-width="1.3"/>
<rect x="506.7" y="328.92" width="7.28" height="73.88" fill="#000000" stroke="#000" stroke-width="1.3"/>
<rect x="524.9" y="362.74" width="7.28" height="40.06" fill="#ffffff" stroke="#000" stroke-width="1.3"/>
<rect x="532.18" y="316.88" width="7.28" height="85.92" fill="#808080" stroke="#000" stroke-width="1.3"/>
<rect x="539.46" y="356.05" width="7.28" height="46.75" fill="#000000" stroke="#000" stroke-width="1.3"/>
<rect x="557.66" y="359.69" width="7.28" height="43.11" fill="#ffffff" stroke="#000" stroke-width="1.3"/>
<rect x="564.94" y="284.77" width="7.28" height="118.03" fill="#808080" stroke="#000" stroke-width="1.3"/>
<rect x="572.22" y="322.23" width="7.28" height="80.57" fill="#000000" stroke="#000" stroke-width="1.3"/>
<rect x="590.42" y="312.1" width="7.28" height="90.7" fill="#ffffff" stroke="#000" stroke-width="1.3"/>
<rect x="597.7" y="256.87" width="7.28" height="145.93" fill="#808080" stroke="#000" stroke-width="1.3"/>
<rect x="604.98" y="307.89" width="7.28" height="94.91" fill="#000000" stroke="#000" stroke-width="1.3"/>
<rect x="623.18" y="381.66" width="7.28" height="21.14" fill="#ffffff" stroke="#000" stroke-width="1.3"/>
<rect x="630.46" y="363.89" width="7.28" height="38.91" fill="#808080" stroke="#000" stroke-width="1.3"/>
<rect x="637.74" y="335.61" width="7.28" height="67.19" fill="#000000" stroke="#000" stroke-width="1.3"/>
<rect x="655.94" y="353.76" width="7.28" height="49.04" fill="#ffffff" stroke="#000" stroke-width="1.3"/>
<rect x="663.22" y="325.86" width="7.28" height="76.94" fill="#808080" stroke="#000" stroke-width="1.3"/>
<rect x="670.5" y="283.24" width="7.28" height="119.56" fill="#000000" stroke="#000" stroke-width="1.3"/>
<path d="M397.5 324.25V333.81M395 324.25H400M395 333.81H400" stroke="#5a5a5a" stroke-width="1.3" fill="none"/>
<path d="M404.78 285.27V295.2M402.28 285.27H407.28M402.28 295.2H407.28" stroke="#5a5a5a" stroke-width="1.3" fill="none"/>
<path d="M412.06 295.4V312.6M409.56 295.4H414.56M409.56 312.6H414.56" stroke="#5a5a5a" stroke-width="1.3" fill="none"/>
<path d="M430.26 339.16V341.07M427.76 339.16H432.76M427.76 341.07H432.76" stroke="#5a5a5a" stroke-width="1.3" fill="none"/>
<path d="M437.54 291.96V298.45M435.04 291.96H440.04M435.04 298.45H440.04" stroke="#5a5a5a" stroke-width="1.3" fill="none"/>
<path d="M444.82 298.84V316.8M442.32 298.84H447.32M442.32 316.8H447.32" stroke="#5a5a5a" stroke-width="1.3" fill="none"/>
<path d="M463.02 327.5V337.06M460.52 327.5H465.52M460.52 337.06H465.52" stroke="#5a5a5a" stroke-width="1.3" fill="none"/>
<path d="M470.3 296.54V303.42M467.8 296.54H472.8M467.8 303.42H472.8" stroke="#5a5a5a" stroke-width="1.3" fill="none"/>
<path d="M477.58 304V311.64M475.08 304H480.08M475.08 311.64H480.08" stroke="#5a5a5a" stroke-width="1.3" fill="none"/>
<path d="M495.78 323.49V335.72M493.28 323.49H498.28M493.28 335.72H498.28" stroke="#5a5a5a" stroke-width="1.3" fill="none"/>
<path d="M503.06 339.16V341.07M500.56 339.16H505.56M500.56 341.07H505.56" stroke="#5a5a5a" stroke-width="1.3" fill="none"/>
<path d="M510.34 324.06V332.47M507.84 324.06H512.84M507.84 332.47H512.84" stroke="#5a5a5a" stroke-width="1.3" fill="none"/>
<path d="M528.54 361.14V363.05M526.04 361.14H531.04M526.04 363.05H531.04" stroke="#5a5a5a" stroke-width="1.3" fill="none"/>
<path d="M535.82 306.1V326.36M533.32 306.1H538.32M533.32 326.36H538.32" stroke="#5a5a5a" stroke-width="1.3" fill="none"/>
<path d="M543.1 353.68V357.12M540.6 353.68H545.6M540.6 357.12H545.6" stroke="#5a5a5a" stroke-width="1.3" fill="none"/>
<path d="M561.3 354.07V364M558.8 354.07H563.8M558.8 364H563.8" stroke="#5a5a5a" stroke-width="1.3" fill="none"/>
<path d="M568.58 277.05V291.19M566.08 277.05H571.08M566.08 291.19H571.08" stroke="#5a5a5a" stroke-width="1.3" fill="none"/>
<path d="M575.86 319.09V324.06M573.36 319.09H578.36M573.36 324.06H578.36" stroke="#5a5a5a" stroke-width="1.3" fill="none"/>
<path d="M594.06 307.24V315.65M591.56 307.24H596.56M591.56 315.65H596.56" stroke="#5a5a5a" stroke-width="1.3" fill="none"/>
<path d="M601.34 247.24V265.2M598.84 247.24H603.84M598.84 265.2H603.84" stroke="#5a5a5a" stroke-width="1.3" fill="none"/>
<path d="M608.62 304V310.49M606.12 304H611.12M606.12 310.49H611.12" stroke="#5a5a5a" stroke-width="1.3" fill="none"/>
<path d="M626.82 380.06V381.97M624.32 380.06H629.32M624.32 381.97H629.32" stroke="#5a5a5a" stroke-width="1.3" fill="none"/>
<path d="M634.1 362.67V363.81M631.6 362.67H636.6M631.6 363.81H636.6" stroke="#5a5a5a" stroke-width="1.3" fill="none"/>
<path d="M641.38 329.6V340.31M638.88 329.6H643.88M638.88 340.31H643.88" stroke="#5a5a5a" stroke-width="1.3" fill="none"/>
<path d="M659.58 348.14V358.08M657.08 348.14H662.08M657.08 358.08H662.08" stroke="#5a5a5a" stroke-width="1.3" fill="none"/>
<path d="M666.86 319.86V330.56M664.36 319.86H669.36M664.36 330.56H669.36" stroke="#5a5a5a" stroke-width="1.3" fill="none"/>
<path d="M674.14 274.76V290.43M671.64 274.76H676.64M671.64 290.43H676.64" stroke="#5a5a5a" stroke-width="1.3" fill="none"/>
<path d="M430.26 331.5L430.26 335.9M428.35 332.6L432.17 334.8M428.35 334.8L432.17 332.6" stroke="#444" stroke-width="1.0" stroke-linecap="round" fill="none"/>
<path d="M503.06 331.1L503.06 335.5M501.15 332.2L504.97 334.4M501.15 334.4L504.97 332.2" stroke="#444" stroke-width="1.0" stroke-linecap="round" fill="none"/>
<path d="M510.34 317L510.34 321.4M508.43 318.1L512.25 320.3M508.43 320.3L512.25 318.1" stroke="#444" stroke-width="1.0" stroke-linecap="round" fill="none"/>
<path d="M528.54 354.5L528.54 358.9M526.63 355.6L530.45 357.8M526.63 357.8L530.45 355.6" stroke="#444" stroke-width="1.0" stroke-linecap="round" fill="none"/>
<path d="M535.82 300.3L535.82 304.7M533.91 301.4L537.73 303.6M533.91 303.6L537.73 301.4" stroke="#444" stroke-width="1.0" stroke-linecap="round" fill="none"/>
<path d="M543.1 345.8L543.1 350.2M541.19 346.9L545.01 349.1M541.19 349.1L545.01 346.9" stroke="#444" stroke-width="1.0" stroke-linecap="round" fill="none"/>
<path d="M561.3 347.1L561.3 351.5M559.39 348.2L563.21 350.4M559.39 350.4L563.21 348.2" stroke="#444" stroke-width="1.0" stroke-linecap="round" fill="none"/>
<path d="M568.58 271L568.58 275.4M566.67 272.1L570.49 274.3M566.67 274.3L570.49 272.1" stroke="#444" stroke-width="1.0" stroke-linecap="round" fill="none"/>
<path d="M575.86 312.6L575.86 317M573.95 313.7L577.77 315.9M573.95 315.9L577.77 313.7" stroke="#444" stroke-width="1.0" stroke-linecap="round" fill="none"/>
<path d="M594.06 300.8L594.06 305.2M592.15 301.9L595.97 304.1M592.15 304.1L595.97 301.9" stroke="#444" stroke-width="1.0" stroke-linecap="round" fill="none"/>
<path d="M601.34 241.7L601.34 246.1M599.43 242.8L603.25 245M599.43 245L603.25 242.8" stroke="#444" stroke-width="1.0" stroke-linecap="round" fill="none"/>
<path d="M608.62 297.2L608.62 301.6M606.71 298.3L610.53 300.5M606.71 300.5L610.53 298.3" stroke="#444" stroke-width="1.0" stroke-linecap="round" fill="none"/>
<path d="M626.82 373.7L626.82 378.1M624.91 374.8L628.73 377M624.91 377L628.73 374.8" stroke="#444" stroke-width="1.0" stroke-linecap="round" fill="none"/>
<path d="M634.1 358L634.1 362.4M632.19 359.1L636.01 361.3M632.19 361.3L636.01 359.1" stroke="#444" stroke-width="1.0" stroke-linecap="round" fill="none"/>
<path d="M641.38 323.8L641.38 328.2M639.47 324.9L643.29 327.1M639.47 327.1L643.29 324.9" stroke="#444" stroke-width="1.0" stroke-linecap="round" fill="none"/>
<path d="M659.58 342.5L659.58 346.9M657.67 343.6L661.49 345.8M657.67 345.8L661.49 343.6" stroke="#444" stroke-width="1.0" stroke-linecap="round" fill="none"/>
<path d="M666.86 312.9L666.86 317.3M664.95 314L668.77 316.2M664.95 316.2L668.77 314" stroke="#444" stroke-width="1.0" stroke-linecap="round" fill="none"/>
<path d="M674.14 267.9L674.14 272.3M672.23 269L676.05 271.2M672.23 271.2L676.05 269" stroke="#444" stroke-width="1.0" stroke-linecap="round" fill="none"/>
<rect x="388.3" y="230.8" width="294.8" height="172" fill="none" stroke="#000" stroke-width="1.35"/>
<text x="379.8" y="406.2" text-anchor="end" class="tl">0</text>
<text x="379.8" y="387.09" text-anchor="end" class="tl">1</text>
<text x="379.8" y="367.98" text-anchor="end" class="tl">2</text>
<text x="379.8" y="348.87" text-anchor="end" class="tl">3</text>
<text x="379.8" y="329.76" text-anchor="end" class="tl">4</text>
<text x="379.8" y="310.64" text-anchor="end" class="tl">5</text>
<text x="379.8" y="291.53" text-anchor="end" class="tl">6</text>
<text x="379.8" y="272.42" text-anchor="end" class="tl">7</text>
<text x="379.8" y="253.31" text-anchor="end" class="tl">8</text>
<text x="379.8" y="234.2" text-anchor="end" class="tl">9</text>
<path d="M385.3 402.8H388.3M385.3 383.69H388.3M385.3 364.58H388.3M385.3 345.47H388.3M385.3 326.36H388.3M385.3 307.24H388.3M385.3 288.13H388.3M385.3 269.02H388.3M385.3 249.91H388.3M385.3 230.8H388.3M388.3 402.8V406.8M421.06 402.8V406.8M453.81 402.8V406.8M486.57 402.8V406.8M519.32 402.8V406.8M552.08 402.8V406.8M584.83 402.8V406.8M617.59 402.8V406.8M650.34 402.8V406.8M683.1 402.8V406.8" stroke="#444" stroke-width="0.9" fill="none"/>
<text x="407.88" y="415.3" text-anchor="end" class="xl" transform="rotate(-45 407.88 415.3)">C</text>
<text x="440.63" y="415.3" text-anchor="end" class="xl" transform="rotate(-45 440.63 415.3)">150</text>
<text x="473.39" y="415.3" text-anchor="end" class="xl" transform="rotate(-45 473.39 415.3)">300</text>
<text x="506.14" y="415.3" text-anchor="end" class="xl" transform="rotate(-45 506.14 415.3)">pSAC</text>
<text x="538.9" y="415.3" text-anchor="end" class="xl" transform="rotate(-45 538.9 415.3)">pSA150</text>
<text x="571.66" y="415.3" text-anchor="end" class="xl" transform="rotate(-45 571.66 415.3)">pSA300</text>
<text x="604.41" y="415.3" text-anchor="end" class="xl" transform="rotate(-45 604.41 415.3)">cSAC</text>
<text x="637.17" y="415.3" text-anchor="end" class="xl" transform="rotate(-45 637.17 415.3)">cSA150</text>
<text x="669.92" y="415.3" text-anchor="end" class="xl" transform="rotate(-45 669.92 415.3)">cSA300</text>
<text x="368.4" y="312.5" text-anchor="middle" class="yl" style="font-size:9.5px" transform="rotate(-90 368.4 312.5)">TBARS (nmol g<tspan baseline-shift="super" font-size="7">-1</tspan> FW)</text>
<text x="396.6" y="244.7" class="pl">D</text>
<rect x="437" y="234.5" width="5" height="5" fill="#ffffff" stroke="#111" stroke-width="1"/>
<text x="443.6" y="239.9" class="lg" style="font-size:9.4px">Akhisar</text>
<rect x="522.1" y="234.5" width="5" height="5" fill="#808080" stroke="#111" stroke-width="1"/>
<text x="528.6" y="239.9" class="lg" style="font-size:9.4px">Erginel</text>
<rect x="604.8" y="234.5" width="5" height="5" fill="#000000" stroke="#111" stroke-width="1"/>
<text x="611.3" y="239.9" class="lg" style="font-size:9.4px">Kalaycı</text>
</svg>
</body></html>
